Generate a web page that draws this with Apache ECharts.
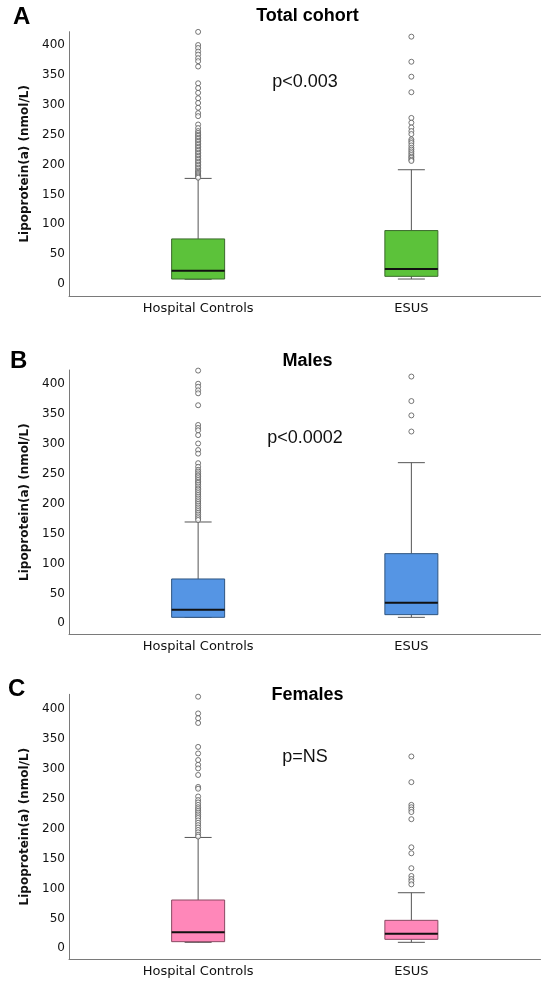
<!DOCTYPE html>
<html>
<head>
<meta charset="utf-8">
<script src="https://cdn.jsdelivr.net/npm/echarts@6/dist/echarts.min.js"></script>
<style>
html,body{margin:0;padding:0;background:#fff;}
#chart{width:550px;height:985px;}
</style>
</head>
<body>
<div id="chart"></div>
<script>
// ---- data ----
const categories = ['Hospital Controls', 'ESUS'];
const yTicks = [0, 50, 100, 150, 200, 250, 300, 350, 400];
const panelLetters = ['A', 'B', 'C'];
const panelTitles = ['Total cohort', 'Males', 'Females'];
const pValues = ['p<0.003', 'p<0.0002', 'p=NS'];

// box stats: [min, Q1, median, Q3, max]
const totalControlsBox = [8, 8.4, 22.4, 75.5, 176.8];
const totalEsusBox = [8.4, 12.9, 25.2, 89.5, 191.3];
const malesControlsBox = [10, 10, 22.9, 74.2, 169.6];
const malesEsusBox = [10, 14.5, 34.6, 116.6, 268.9];
const femalesControlsBox = [10, 11.1, 26.7, 80.8, 185.5];
const femalesEsusBox = [10, 15, 24.5, 46.8, 93];

// outliers
const totalControlsOut = [422, 400, 395, 389, 384, 378, 373, 364, 336, 328, 320, 311, 303, 295, 286, 281, 267, 261,
  256, 253, 250, 248, 245, 243, 240, 238, 235, 233, 230, 228, 225, 223, 220, 218, 215, 213, 210, 208, 205, 203,
  200, 198, 195, 193, 190, 188, 186, 184, 182, 180, 178];
const totalEsusOut = [414, 372, 347, 321, 278, 270, 262, 256, 251, 242, 239, 236, 232, 228, 225, 222, 219, 216, 213, 211, 208, 206];
const malesControlsOut = [423, 401, 396, 390, 385, 365, 332, 327, 323, 315, 301, 290, 284, 268, 262,
  257, 254, 251, 248, 246, 243, 240, 237, 235, 232, 229, 226, 224, 221, 218, 215, 212, 209, 206, 203,
  200, 197, 194, 191, 188, 185, 182, 179, 176, 173];
const malesEsusOut = [413, 372, 348, 321];
const femalesControlsOut = [421, 393, 385, 377, 337, 326, 315, 307, 301, 290, 270, 267, 254, 248, 244, 240, 236,
  233, 230, 227, 224, 221, 218, 214, 210, 206, 202, 198, 194, 190, 187];
const femalesEsusOut = [321, 278, 240, 236, 232, 228, 216, 169, 159, 134, 121, 116, 112, 107];

const boxColors = ['#5cc23a', '#5595e4', '#ff87b9'];
const boxBorders = ['#3b6a2c', '#2f5580', '#8a4a63'];

// ---- layout ----
const panels = [
  { top: 31.7, height: 264.3, ymin: -20, ymax: 422.3, letterY: 18.5, titleY: 16, pY: 82,
    ctrl: totalControlsBox, esus: totalEsusBox, ctrlOut: totalControlsOut, esusOut: totalEsusOut },
  { top: 370, height: 264.3, ymin: -18.4, ymax: 424, letterY: 362.5, titleY: 361.5, pY: 438,
    ctrl: malesControlsBox, esus: malesEsusBox, ctrlOut: malesControlsOut, esusOut: malesEsusOut },
  { top: 694.3, height: 264.7, ymin: -17.9, ymax: 425, letterY: 690, titleY: 695, pY: 757.5,
    ctrl: femalesControlsBox, esus: femalesEsusBox, ctrlOut: femalesControlsOut, esusOut: femalesEsusOut }
];

const grids = [], xAxes = [], yAxes = [], series = [], graphics = [];
const letterX = [13, 10, 8];

panels.forEach((p, i) => {
  grids.push({ left: 69, right: 9.5, top: p.top, height: p.height, containLabel: false });
  xAxes.push({
    type: 'value', gridIndex: i, min: -0.6056, max: 1.6056,
    axisLine: { show: true, onZero: false, lineStyle: { color: '#7a7a7a', width: 1 } },
    axisTick: { show: false },
    splitLine: { show: false },
    axisLabel: {
      customValues: [0, 1],
      formatter: v => categories[Math.round(v)],
      color: '#111', fontFamily: 'DejaVu Sans', fontSize: 13, margin: 6
    }
  });
  yAxes.push({
    type: 'value', gridIndex: i, min: p.ymin, max: p.ymax,
    name: 'Lipoprotein(a) (nmol/L)', nameLocation: 'middle', nameGap: 31,
    nameTextStyle: { fontFamily: 'DejaVu Sans', fontWeight: 'bold', fontSize: 12, color: '#111' },
    axisLine: { show: true, onZero: false, lineStyle: { color: '#7a7a7a', width: 1 } },
    axisTick: { show: false },
    splitLine: { show: false },
    axisLabel: {
      customValues: yTicks,
      color: '#111', fontFamily: 'DejaVu Sans', fontSize: 12, margin: 4
    }
  });
  const fill = boxColors[i], border = boxBorders[i];
  series.push({
    type: 'custom', xAxisIndex: i, yAxisIndex: i,
    encode: { x: 0, y: [1, 2, 3, 4, 5] },
    data: [[0].concat(p.ctrl), [1].concat(p.esus)],
    renderItem: function (params, api) {
      const x = api.value(0);
      const pMin = api.coord([x, api.value(1)]);
      const pQ1 = api.coord([x, api.value(2)]);
      const pMed = api.coord([x, api.value(3)]);
      const pQ3 = api.coord([x, api.value(4)]);
      const pMax = api.coord([x, api.value(5)]);
      const cx = pMin[0];
      const half = 26.5, cap = 13.5;
      const lineStyle = { stroke: '#555', lineWidth: 1 };
      return {
        type: 'group',
        children: [
          { type: 'line', shape: { x1: cx, y1: pQ3[1], x2: cx, y2: pMax[1] }, style: lineStyle },
          { type: 'line', shape: { x1: cx - cap, y1: pMax[1], x2: cx + cap, y2: pMax[1] }, style: lineStyle },
          { type: 'line', shape: { x1: cx, y1: pQ1[1], x2: cx, y2: pMin[1] }, style: lineStyle },
          { type: 'line', shape: { x1: cx - cap, y1: pMin[1], x2: cx + cap, y2: pMin[1] }, style: lineStyle },
          { type: 'rect', shape: { x: cx - half, y: pQ3[1], width: half * 2, height: pQ1[1] - pQ3[1] },
            style: { fill: fill, stroke: border, lineWidth: 1 } },
          { type: 'line', shape: { x1: cx - half, y1: pMed[1], x2: cx + half, y2: pMed[1] },
            style: { stroke: '#111', lineWidth: 2 } }
        ]
      };
    },
    silent: true, z: 2
  });
  series.push({
    type: 'scatter', xAxisIndex: i, yAxisIndex: i,
    data: p.ctrlOut.map(v => [0, v]),
    symbol: 'circle', symbolSize: 5,
    itemStyle: { color: '#fff', borderColor: '#555', borderWidth: 1 },
    silent: true, z: 3
  });
  series.push({
    type: 'scatter', xAxisIndex: i, yAxisIndex: i,
    data: p.esusOut.map(v => [1, v]),
    symbol: 'circle', symbolSize: 5,
    itemStyle: { color: '#fff', borderColor: '#555', borderWidth: 1 },
    silent: true, z: 3
  });
  graphics.push({
    type: 'text', left: letterX[i], top: p.letterY - 13,
    style: { text: panelLetters[i], font: 'bold 24px "Liberation Sans", Arial, sans-serif', fill: '#000' }
  });
  graphics.push({
    type: 'text', x: 307.5, y: p.titleY,
    style: { text: panelTitles[i], font: 'bold 18px "Liberation Sans", Arial, sans-serif', fill: '#000',
      textAlign: 'center', textVerticalAlign: 'middle' }
  });
  graphics.push({
    type: 'text', x: 305, y: p.pY,
    style: { text: pValues[i], font: '18px "Liberation Sans", Arial, sans-serif', fill: '#111',
      textAlign: 'center', textVerticalAlign: 'middle' }
  });
});

const chart = echarts.init(document.getElementById('chart'), null, { renderer: 'canvas' });
chart.setOption({
  animation: false,
  backgroundColor: '#fff',
  grid: grids,
  xAxis: xAxes,
  yAxis: yAxes,
  series: series,
  graphic: graphics
});
</script>
</body>
</html>
